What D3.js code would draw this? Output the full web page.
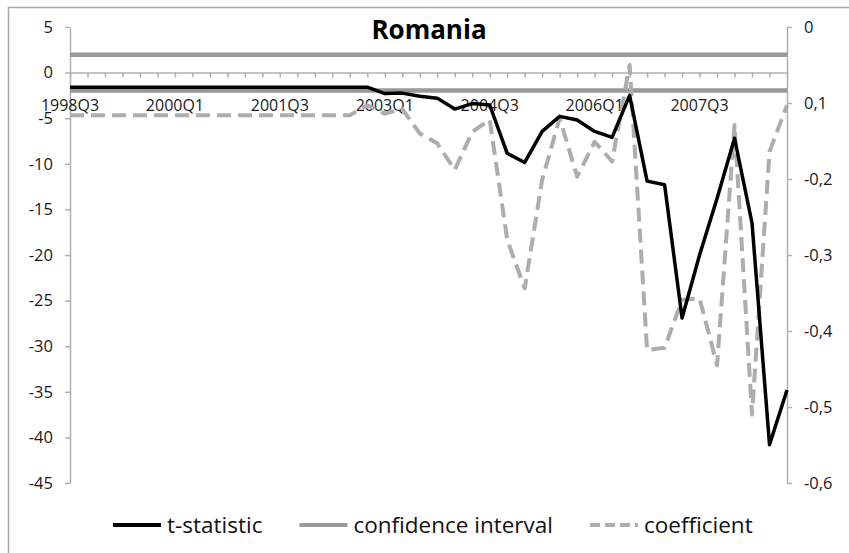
<!DOCTYPE html>
<html>
<head>
<meta charset="utf-8">
<script src="https://cdn.jsdelivr.net/npm/d3@7"></script>
<style>
  body { margin: 0; background: #fff; }
  text { font-family: "Open Sans", sans-serif; }
</style>
</head>
<body>
<div id="chart"></div>
<script>
// quarters on the category axis
var categories = ["1998Q3","1998Q4","1999Q1","1999Q2","1999Q3","1999Q4",
  "2000Q1","2000Q2","2000Q3","2000Q4","2001Q1","2001Q2",
  "2001Q3","2001Q4","2002Q1","2002Q2","2002Q3","2002Q4",
  "2003Q1","2003Q2","2003Q3","2003Q4","2004Q1","2004Q2",
  "2004Q3","2004Q4","2005Q1","2005Q2","2005Q3","2005Q4",
  "2006Q1","2006Q2","2006Q3","2006Q4","2007Q1","2007Q2",
  "2007Q3","2007Q4","2008Q1","2008Q2","2008Q3","2008Q4"];

var tStat = [-1.6,-1.6,-1.6,-1.6,-1.6,-1.6,-1.6,-1.6,-1.6,-1.6,-1.6,-1.6,
  -1.6,-1.6,-1.6,-1.6,-1.6,-1.6,-2.3,-2.25,-2.6,-2.8,-4.0,-3.4,
  -3.55,-8.85,-9.85,-6.45,-4.8,-5.2,-6.45,-7.1,-2.5,-11.9,-12.3,-26.9,
  -20.0,-13.8,-7.2,-16.5,-40.8,-34.8];

var coefficient = [-0.116,-0.116,-0.116,-0.116,-0.116,-0.116,-0.116,-0.116,-0.116,-0.116,-0.116,-0.116,
  -0.116,-0.116,-0.116,-0.116,-0.116,-0.103,-0.114,-0.108,-0.14,-0.153,-0.188,-0.138,
  -0.122,-0.28,-0.344,-0.201,-0.12,-0.197,-0.151,-0.177,-0.05,-0.425,-0.422,-0.359,
  -0.357,-0.445,-0.129,-0.51,-0.164,-0.103];

var confidenceBounds = [1.96, -1.96];

var leftTicks = [5,0,-5,-10,-15,-20,-25,-30,-35,-40,-45];
var leftTickLabels = ["5","0","-5","-10","-15","-20","-25","-30","-35","-40","-45"];
var rightTicks = [0,-0.1,-0.2,-0.3,-0.4,-0.5,-0.6];
var rightTickLabels = ["0","0,1","-0,2","-0,3","-0,4","-0,5","-0,6"];
var xLabelEvery = 6;

var legendNames = ["t-statistic","confidence interval","coefficient"];

var width = 849, height = 553;
var margin = {top: 27, right: 62, bottom: 70, left: 70};
var axisGrey = "#b0b0b0";

var svg = d3.select("#chart")
  .append("svg")
  .attr("width", width)
  .attr("height", height);

// outer frame (only top and left edges fall inside the window)
svg.append("path")
  .attr("d", "M8.5," + height + "V7.5H" + width)
  .attr("fill", "none")
  .attr("stroke", "#a8a8a8")
  .attr("stroke-width", 1.5);

var x = d3.scalePoint()
  .domain(categories)
  .range([margin.left, width - margin.right]);

var yL = d3.scaleLinear()
  .domain([-45, 5])
  .range([height - margin.bottom, margin.top]);

var yR = d3.scaleLinear()
  .domain([-0.6, 0])
  .range([height - margin.bottom, margin.top]);

// title
svg.append("text")
  .attr("x", 429)
  .attr("y", 39)
  .attr("text-anchor", "middle")
  .style("font-size", "26px")
  .style("font-weight", "bold")
  .text("Romania");

// left axis
var leftAxis = svg.append("g")
  .attr("transform", "translate(" + margin.left + ",0)")
  .call(d3.axisLeft(yL)
    .tickValues(leftTicks)
    .tickSize(5)
    .tickSizeOuter(0)
    .tickPadding(12)
    .tickFormat(function(d, i) { return leftTickLabels[i]; }));

// right axis
var rightAxis = svg.append("g")
  .attr("transform", "translate(" + (width - margin.right) + ",0)")
  .call(d3.axisRight(yR)
    .tickValues(rightTicks)
    .tickSize(5)
    .tickSizeOuter(0)
    .tickPadding(12)
    .tickFormat(function(d, i) { return rightTickLabels[i]; }));

// category axis at zero
var xAxis = svg.append("g")
  .attr("transform", "translate(0," + yL(0) + ")")
  .call(d3.axisBottom(x)
    .tickSize(5)
    .tickSizeOuter(0)
    .tickFormat(""));

[leftAxis, rightAxis, xAxis].forEach(function(g) {
  g.select(".domain").attr("stroke", axisGrey).attr("stroke-width", 1.5);
  g.selectAll(".tick line").attr("stroke", axisGrey).attr("stroke-width", 1.5);
  g.selectAll(".tick text")
    .attr("fill", "#1a1a1a")
    .style("font-size", "16.5px")
    .style("font-family", "'Open Sans', sans-serif");
});

// category labels, every sixth quarter
svg.append("g")
  .selectAll("text")
  .data(categories.filter(function(d, i) { return i % xLabelEvery == 0; }))
  .enter().append("text")
  .attr("x", function(d) { return x(d); })
  .attr("y", 111)
  .attr("text-anchor", "middle")
  .attr("fill", "#1a1a1a")
  .style("font-size", "16px")
  .text(function(d) { return d; });

// confidence interval
svg.append("g")
  .selectAll("line")
  .data(confidenceBounds)
  .enter().append("line")
  .attr("x1", x(categories[0]))
  .attr("x2", x(categories[categories.length - 1]))
  .attr("y1", function(d) { return yL(d); })
  .attr("y2", function(d) { return yL(d); })
  .attr("stroke", "#999999")
  .attr("stroke-width", 4.5);

// coefficient (right axis)
svg.append("path")
  .datum(coefficient)
  .attr("fill", "none")
  .attr("stroke", "#adadad")
  .attr("stroke-width", 4)
  .attr("stroke-dasharray", "14,7")
  .attr("stroke-linejoin", "round")
  .attr("d", d3.line()
    .x(function(d, i) { return x(categories[i]); })
    .y(function(d) { return yR(d); }));

// t-statistic (left axis)
svg.append("path")
  .datum(tStat)
  .attr("fill", "none")
  .attr("stroke", "#000")
  .attr("stroke-width", 3.5)
  .attr("stroke-linejoin", "round")
  .attr("d", d3.line()
    .x(function(d, i) { return x(categories[i]); })
    .y(function(d) { return yL(d); }));

// legend
var legendStyles = [
  {stroke: "#000", width: 4, dash: null},
  {stroke: "#999999", width: 4, dash: null},
  {stroke: "#adadad", width: 4, dash: "10,5"}
];
var lx = 113, ly = 525;
legendNames.forEach(function(name, i) {
  var st = legendStyles[i];
  svg.append("line")
    .attr("x1", lx).attr("x2", lx + 48)
    .attr("y1", ly).attr("y2", ly)
    .attr("stroke", st.stroke)
    .attr("stroke-width", st.width)
    .attr("stroke-dasharray", st.dash);
  var t = svg.append("text")
    .attr("x", lx + 54)
    .attr("y", ly + 8)
    .attr("fill", "#111")
    .style("font-size", "22.5px")
    .text(name);
  lx = lx + 54 + t.node().getComputedTextLength() + 37;
});
</script>
</body>
</html>
